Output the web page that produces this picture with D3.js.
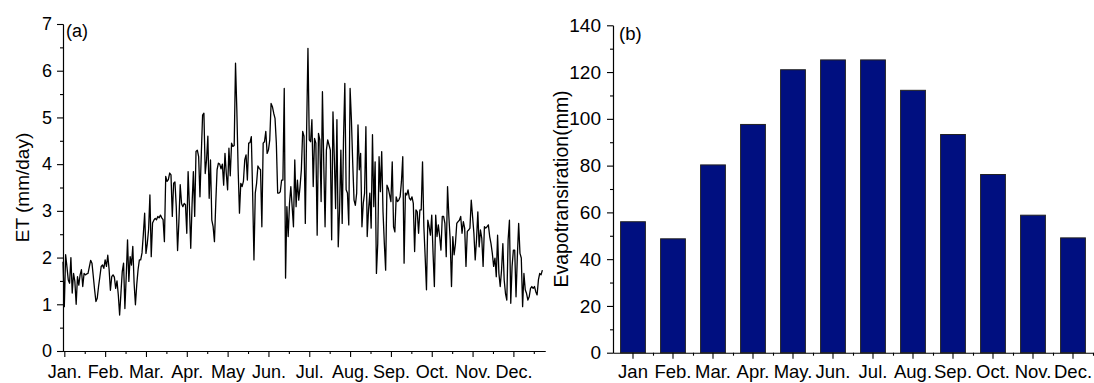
<!DOCTYPE html>
<html>
<head>
<meta charset="utf-8">
<script src="https://cdn.jsdelivr.net/npm/d3@7"></script>
<style>
  body { margin: 0; background: #ffffff; }
  svg { display: block; font-family: Arial, "Liberation Sans", sans-serif; }
</style>
</head>
<body>
<svg id="chart" width="1094" height="383"></svg>
<script>
// panel (a): daily ET (mm/day)
const etJan = [1.91,0.95,2.06,1.8,1.52,1.45,2.0,1.24,1.66,1.49,1.0,1.59,1.41,1.63,1.74,1.38,1.66,1.63,1.65,1.66,1.8,1.94,1.88,1.6,1.31,1.06,1.13,1.38,1.59,1.81,1.84];
const etFeb = [1.77,1.95,1.81,2.05,1.75,1.3,1.59,1.63,1.58,1.34,1.5,1.2,0.77,1.24,1.7,1.88,0.91,1.59,2.38,1.49,2.02,1.84,2.24,1.45,0.99,1.42,1.74,1.95];
const etMar = [1.95,2.1,2.5,2.95,2.09,2.3,2.6,3.34,2.02,2.74,2.8,2.84,2.81,2.88,2.85,2.91,2.85,2.81,2.34,3.74,3.63,3.67,3.81,3.77,2.88,3.59,3.62,3.09,2.15,2.77,3.56];
const etApr = [3.16,3.09,3.16,3.13,2.52,3.84,3.09,2.2,3.13,3.84,2.88,4.27,4.3,4.16,3.3,4.2,5.05,5.09,3.8,4.09,4.6,3.27,4.09,2.8,2.66,2.34,3.16,3.88,4.02,4.0];
const etMay = [3.9,4.0,3.55,4.23,3.8,3.45,4.34,3.75,4.45,4.38,4.4,6.16,5.16,3.88,2.95,3.59,3.52,3.63,4.09,4.2,3.66,4.45,4.46,4.59,3.38,1.95,3.38,3.59,3.96,3.91,3.88];
const etJun = [2.66,4.45,4.48,4.7,4.23,4.3,4.52,5.3,5.23,5.09,4.98,4.45,3.38,3.38,3.41,3.66,3.66,5.62,1.56,3.09,2.45,3.16,3.52,3.09,2.66,4.09,3.09,3.66,3.23,3.52];
const etJul = [3.88,4.7,4.6,2.73,4.73,6.48,4.52,4.48,4.95,3.52,4.55,4.45,2.48,4.66,4.52,3.2,5.55,4.02,2.66,4.3,4.52,4.41,4.3,2.38,5.12,4.16,3.05,4.95,2.23,3.02,4.3];
const etAug = [2.73,4.52,5.73,3.45,3.38,2.7,5.62,4.95,4.02,3.23,3.12,3.38,4.84,3.88,4.23,2.66,3.16,3.38,4.8,2.45,3.02,3.38,2.63,4.63,3.09,4.05,1.66,2.3,4.16,3.41,4.27];
const etSep = [2.98,2.3,1.73,3.55,3.48,3.34,3.2,4.05,2.66,2.55,3.3,3.2,3.23,3.3,3.63,4.16,1.88,3.38,3.34,3.45,3.27,3.23,3.3,3.16,2.13,3.02,2.98,2.52,3.02,3.02];
const etOct = [4.05,2.67,2.02,1.31,2.8,2.66,2.48,2.91,2.09,1.38,2.91,2.45,2.7,2.45,2.16,2.88,2.88,2.73,2.02,3.52,2.88,2.38,1.38,2.45,2.06,2.3,2.73,2.77,2.8,2.88,2.52];
const etNov = [2.77,2.63,1.81,2.56,2.59,2.63,3.23,2.88,2.52,1.95,2.38,2.98,2.23,2.59,2.41,1.81,2.66,2.63,2.66,2.7,2.45,2.3,2.09,1.81,1.99,1.59,2.48,1.66,1.38,1.73];
const etDec = [2.3,1.52,1.23,1.09,2.38,2.8,1.02,1.81,2.16,2.16,1.16,2.02,2.73,2.09,1.99,0.95,1.66,1.31,1.23,1.09,1.16,1.34,1.38,1.34,1.38,1.27,1.2,1.52,1.66,1.63,1.73];

const monthLabelsA = ["Jan.", "Feb.", "Mar.", "Apr.", "May", "Jun.", "Jul.", "Aug.", "Sep.", "Oct.", "Nov.", "Dec."];
const yTicksA = [0, 1, 2, 3, 4, 5, 6, 7];

// panel (b): monthly evapotranspiration (mm)
const monthLabelsB = ["Jan", "Feb.", "Mar.", "Apr.", "May.", "Jun.", "Jul.", "Aug.", "Sep.", "Oct.", "Nov.", "Dec."];
const monthlyET = [56.0, 48.7, 80.3, 97.6, 121.0, 125.2, 125.2, 112.2, 93.3, 76.2, 58.8, 49.1];
const yTicksB = [0, 20, 40, 60, 80, 100, 120, 140];

const svg = d3.select("#chart");

function styleAxis(g, fontSize) {
  g.select(".domain").attr("stroke", "#000").attr("stroke-width", 1.1);
  g.selectAll(".tick line").attr("stroke", "#000").attr("stroke-width", 1.1);
  g.selectAll(".tick text").attr("fill", "#000").style("font-size", fontSize + "px").style("font-family", "Arial, 'Liberation Sans', sans-serif");
}

// ---------- panel (a) ----------
const daily = [].concat(etJan, etFeb, etMar, etApr, etMay, etJun, etJul, etAug, etSep, etOct, etNov, etDec);
const xA = d3.scaleLinear().domain([0, 366]).range([63, 545]);
const yA = d3.scaleLinear().domain([0, 7]).range([351, 24]);

const majorDaysA = monthLabelsA.map(function(m, i) { return 1 + 31 * i; });
const minorDaysA = monthLabelsA.map(function(m, i) { return 16.5 + 31 * i; });

svg.append("g")
  .attr("transform", "translate(0," + yA(0) + ")")
  .call(d3.axisBottom(xA).tickValues(minorDaysA).tickSize(3).tickSizeOuter(0).tickFormat(""))
  .call(function(g) { styleAxis(g, 18); });

const axA = svg.append("g")
  .attr("transform", "translate(0," + yA(0) + ")")
  .call(d3.axisBottom(xA).tickValues(majorDaysA).tickSize(6).tickSizeOuter(0)
    .tickFormat(function(d, i) { return monthLabelsA[i]; }))
  .call(function(g) { styleAxis(g, 18); });
axA.selectAll(".tick text").attr("dy", "0.71em").attr("y", 14);

svg.append("g")
  .attr("transform", "translate(" + xA(0) + ",0)")
  .call(d3.axisLeft(yA).tickValues(d3.range(0.5, 7, 1)).tickSize(3).tickSizeOuter(0).tickFormat(""))
  .call(function(g) { styleAxis(g, 18); });

svg.append("g")
  .attr("transform", "translate(" + xA(0) + ",0)")
  .call(d3.axisLeft(yA).tickValues(yTicksA).tickSize(6).tickSizeOuter(0).tickFormat(d3.format("d")))
  .call(function(g) { styleAxis(g, 18); })
  .selectAll(".tick text").attr("x", -11);

svg.append("path")
  .datum(daily)
  .attr("fill", "none")
  .attr("stroke", "#000")
  .attr("stroke-width", 1.3)
  .attr("stroke-linejoin", "round")
  .attr("d", d3.line().x(function(d, i) { return xA(i); }).y(function(d) { return yA(d); }));

svg.append("text").attr("x", 66).attr("y", 37).style("font-size", "18px").text("(a)");

svg.append("text")
  .attr("transform", "translate(29," + ((yA(0) + yA(7)) / 2) + ") rotate(-90)")
  .attr("text-anchor", "middle")
  .style("font-size", "19px")
  .text("ET (mm/day)");

// ---------- panel (b) ----------
const xB = d3.scaleBand().domain(monthLabelsB).range([613, 1093]).paddingInner(0.38).paddingOuter(0.19);
const xBIdx = d3.scaleLinear().domain([0, 12]).range([613, 1093]);
const yB = d3.scaleLinear().domain([0, 140]).range([352.7, 25.3]);

svg.append("g")
  .selectAll("rect")
  .data(monthlyET)
  .join("rect")
  .attr("x", function(d, i) { return xB(monthLabelsB[i]); })
  .attr("y", function(d) { return yB(d); })
  .attr("width", xB.bandwidth())
  .attr("height", function(d) { return yB(0) - yB(d); })
  .attr("fill", "#000f80")
  .attr("stroke", "#222")
  .attr("stroke-width", 1);

svg.append("g")
  .attr("transform", "translate(0," + yB(0) + ")")
  .call(d3.axisBottom(xBIdx).tickValues(d3.range(1, 13)).tickSize(3).tickSizeOuter(0).tickFormat(""))
  .call(function(g) { styleAxis(g, 18); });

const axB = svg.append("g")
  .attr("transform", "translate(0," + yB(0) + ")")
  .call(d3.axisBottom(xB).tickSize(6).tickSizeOuter(0))
  .call(function(g) { styleAxis(g, 18.5); });
axB.select(".domain").remove();
axB.selectAll(".tick text").attr("dy", "0.71em").attr("y", 12.5);

svg.append("g")
  .attr("transform", "translate(613,0)")
  .call(d3.axisLeft(yB).tickValues(d3.range(10, 140, 20)).tickSize(3).tickSizeOuter(0).tickFormat(""))
  .call(function(g) { styleAxis(g, 18); });

svg.append("g")
  .attr("transform", "translate(613,0)")
  .call(d3.axisLeft(yB).tickValues(yTicksB).tickSize(6).tickSizeOuter(0).tickFormat(d3.format("d")))
  .call(function(g) { styleAxis(g, 19); })
  .selectAll(".tick text").attr("x", -12);

svg.append("text").attr("x", 619).attr("y", 40).style("font-size", "18.5px").text("(b)");

svg.append("text")
  .attr("transform", "translate(568," + ((yB(0) + yB(140)) / 2) + ") rotate(-90)")
  .attr("text-anchor", "middle")
  .style("font-size", "19.5px")
  .text("Evapotransiration(mm)");
</script>
</body>
</html>
